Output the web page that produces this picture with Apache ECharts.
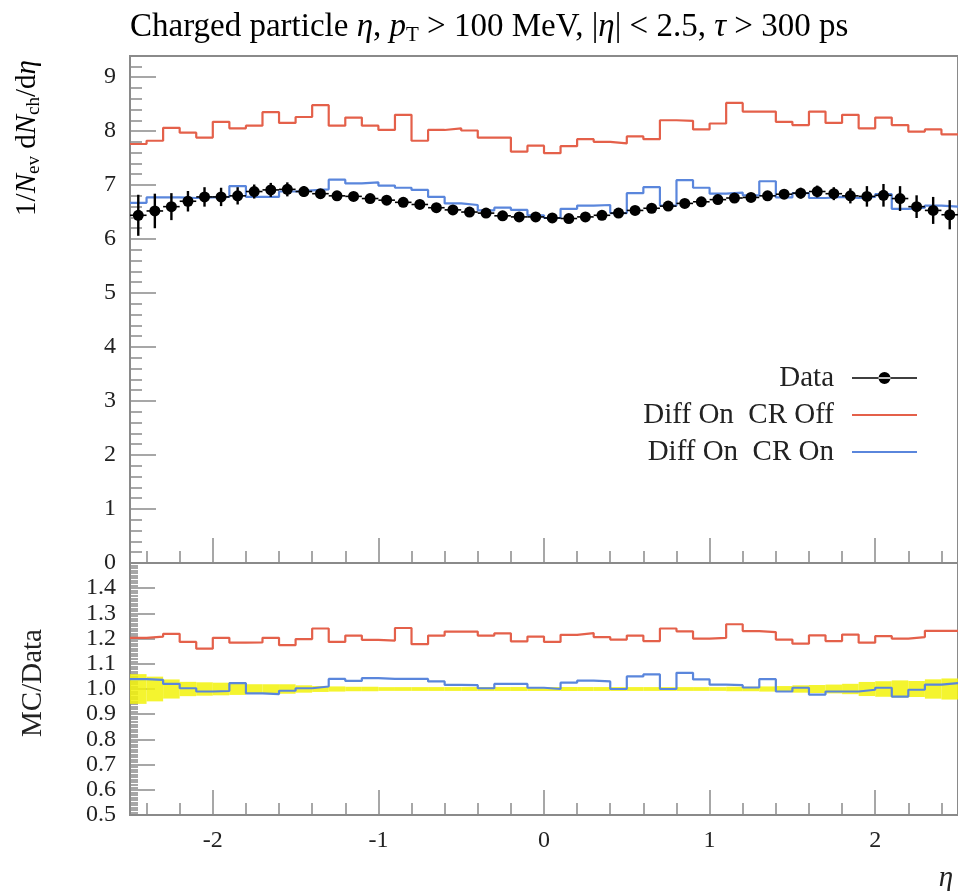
<!DOCTYPE html>
<html><head><meta charset="utf-8">
<script src="https://cdn.jsdelivr.net/npm/echarts@6/dist/echarts.min.js"></script>
<style>html,body{margin:0;padding:0;background:#fff;}#c{width:958px;height:891px;}</style>
</head><body><div id="c"></div>
<script>
// ---- data ----
const binEdges = [-2.5,-2.4,-2.3,-2.2,-2.1,-2.0,-1.9,-1.8,-1.7,-1.6,-1.5,-1.4,-1.3,-1.2,-1.1,-1.0,-0.9,-0.8,-0.7,-0.6,-0.5,-0.4,-0.3,-0.2,-0.1,0.0,0.1,0.2,0.3,0.4,0.5,0.6,0.7,0.8,0.9,1.0,1.1,1.2,1.3,1.4,1.5,1.6,1.7,1.8,1.9,2.0,2.1,2.2,2.3,2.4,2.5];
const dataValues = [6.44,6.52,6.60,6.70,6.78,6.78,6.80,6.88,6.91,6.92,6.88,6.84,6.80,6.79,6.75,6.72,6.68,6.64,6.58,6.54,6.50,6.48,6.43,6.41,6.41,6.39,6.38,6.41,6.44,6.48,6.53,6.57,6.61,6.66,6.69,6.73,6.76,6.77,6.80,6.83,6.85,6.88,6.84,6.80,6.79,6.81,6.75,6.60,6.53,6.45];
const dataErrors = [0.38,0.32,0.25,0.19,0.18,0.17,0.16,0.13,0.13,0.13,0.10,0.08,0.07,0.06,0.06,0.05,0.05,0.05,0.05,0.05,0.05,0.05,0.05,0.05,0.05,0.05,0.05,0.05,0.05,0.05,0.05,0.05,0.05,0.05,0.05,0.05,0.06,0.06,0.07,0.08,0.10,0.11,0.12,0.14,0.19,0.21,0.23,0.21,0.25,0.27];
const crOffValues = [7.76,7.82,8.06,7.97,7.88,8.17,8.05,8.10,8.35,8.15,8.26,8.48,8.10,8.25,8.10,8.02,8.30,7.82,8.02,8.05,8.01,7.88,7.88,7.62,7.73,7.59,7.72,7.85,7.80,7.77,7.90,7.85,8.20,8.19,8.03,8.14,8.52,8.36,8.36,8.17,8.11,8.36,8.15,8.30,8.05,8.25,8.11,7.99,8.03,7.94];
const crOnValues = [6.67,6.77,6.77,6.76,6.77,6.78,6.98,6.78,6.78,6.88,6.90,6.92,7.10,7.03,7.05,6.99,6.95,6.91,6.78,6.66,6.63,6.53,6.58,6.54,6.44,6.39,6.56,6.62,6.63,6.48,6.85,6.96,6.62,7.09,6.95,6.84,6.86,6.81,7.07,6.77,6.85,6.76,6.78,6.76,6.78,6.83,6.56,6.58,6.62,6.60];
const crOffRatio = [1.203,1.208,1.219,1.187,1.160,1.203,1.184,1.185,1.203,1.174,1.198,1.240,1.187,1.212,1.195,1.192,1.242,1.178,1.212,1.228,1.228,1.212,1.221,1.189,1.208,1.187,1.215,1.222,1.206,1.196,1.212,1.190,1.240,1.229,1.200,1.203,1.257,1.230,1.226,1.196,1.180,1.213,1.190,1.216,1.184,1.210,1.200,1.206,1.231,1.231];
const crOnRatio = [1.039,1.036,1.020,1.003,0.990,0.992,1.023,0.983,0.980,0.993,1.003,1.010,1.040,1.032,1.043,1.040,1.040,1.040,1.030,1.016,1.015,1.003,1.020,1.020,1.005,1.000,1.025,1.033,1.030,1.000,1.050,1.058,1.000,1.064,1.038,1.017,1.015,1.006,1.039,0.990,1.005,0.978,0.990,0.990,0.997,1.005,0.970,0.997,1.017,1.023];
const xTickLabels = [-2,-1,0,1,2];
const yTopTickLabels = [0,1,2,3,4,5,6,7,8,9];
const yRatioTickLabels = [0.5,0.6,0.7,0.8,0.9,1.0,1.1,1.2,1.3,1.4];
const seriesNames = ['Data','Diff On  CR Off','Diff On  CR On'];

// ---- styling ----
const FONT = "'Liberation Serif','DejaVu Serif',serif";
const GRAY = '#8a8a8a';
const RED = '#e4604a';
const BLUE = '#5a86dc';
const TXT = '#222';

const minorX = []; for (let k = -12; k <= 12; k++) if (k % 5 !== 0) minorX.push(k / 5);
const minorYTop = []; for (let k = 1; k <= 46; k++) if (k % 5 !== 0) minorYTop.push(k / 5);
const minorYRatio = []; for (let k = 51; k < 150; k++) if (k % 10 !== 0) minorYRatio.push(k / 100);

function stepData(vals) {
  const out = [];
  vals.forEach((v, i) => { out.push([binEdges[i], v]); out.push([binEdges[i + 1], v]); });
  return out;
}
const pointData = dataValues.map((v, i) => [(binEdges[i] + binEdges[i + 1]) / 2, v, dataErrors[i], binEdges[i], binEdges[i + 1]]);
const bandData = dataValues.map((v, i) => [(binEdges[i] + binEdges[i + 1]) / 2, 1, dataErrors[i] / v, binEdges[i], binEdges[i + 1]]);

function axis(dim, gridIndex, min, max, position, ticks, tickLen, labels, fmt, margin) {
  return {
    type: 'value', gridIndex, min, max, position,
    axisLine: { show: true, onZero: false, lineStyle: { color: GRAY, width: 2 } },
    splitLine: { show: false },
    axisTick: { show: true, inside: true, length: tickLen, customValues: ticks, lineStyle: { color: GRAY, width: 1.5 } },
    axisLabel: labels ? { show: true, customValues: labels, formatter: fmt, fontFamily: FONT, fontSize: 24, color: TXT, margin: margin }
                      : { show: false }
  };
}

const chart = echarts.init(document.getElementById('c'));
const option = {
  animation: false,
  backgroundColor: '#fff',
  grid: [
    { left: 130, top: 56, width: 832, height: 507, show: true, borderColor: GRAY, borderWidth: 2, backgroundColor: 'transparent' },
    { left: 130, top: 563, width: 832, height: 252, show: true, borderColor: GRAY, borderWidth: 2, backgroundColor: 'transparent' }
  ],
  xAxis: [
    axis('x', 0, -2.5, 2.5, 'bottom', xTickLabels, 25, null),
    axis('x', 0, -2.5, 2.5, 'bottom', minorX, 12, null),
    axis('x', 1, -2.5, 2.5, 'bottom', xTickLabels, 25, xTickLabels, v => String(v), 14),
    axis('x', 1, -2.5, 2.5, 'bottom', minorX, 12, null)
  ],
  yAxis: [
    axis('y', 0, 0, 9.39, 'left', yTopTickLabels, 26, yTopTickLabels, v => String(Math.round(v)), 14),
    axis('y', 0, 0, 9.39, 'left', minorYTop, 12, null),
    axis('y', 1, 0.5, 1.5, 'left', yRatioTickLabels, 25, yRatioTickLabels, v => v.toFixed(1), 14),
    axis('y', 1, 0.5, 1.5, 'left', minorYRatio, 8, null)
  ],
  legend: {
    orient: 'vertical', right: 40, top: 363, align: 'right', padding: 0,
    itemWidth: 65, itemHeight: 12, itemGap: 7, selectedMode: false,
    textStyle: { fontFamily: FONT, fontSize: 29, color: TXT, lineHeight: 30, padding: [0, 13, 0, 0] },
    data: [
      { name: seriesNames[0], icon: 'path://M0,5.2H65V6.8H0Z M26.5,6A6,6,0,1,0,38.5,6A6,6,0,1,0,26.5,6Z', itemStyle: { opacity: 1 } },
      { name: seriesNames[1], itemStyle: { opacity: 0 } },
      { name: seriesNames[2], itemStyle: { opacity: 0 } }
    ]
  },
  series: [
    { name: seriesNames[1], type: 'line', xAxisIndex: 0, yAxisIndex: 0, data: stepData(crOffValues), symbol: 'none', lineStyle: { color: RED, width: 2.2 }, itemStyle: { color: RED }, z: 3 },
    { name: seriesNames[2], type: 'line', xAxisIndex: 0, yAxisIndex: 0, data: stepData(crOnValues), symbol: 'none', lineStyle: { color: BLUE, width: 2.2 }, itemStyle: { color: BLUE }, z: 3 },
    { name: 'Data errors', type: 'custom', xAxisIndex: 0, yAxisIndex: 0, data: pointData, encode: { x: 0, y: 1 }, z: 4,
      renderItem: function (params, api) {
        const c = api.value(0), v = api.value(1), e = api.value(2), lo = api.value(3), hi = api.value(4);
        const top = api.coord([c, v + e]), bot = api.coord([c, v - e]);
        const l = api.coord([lo, v]), r = api.coord([hi, v]);
        return { type: 'group', children: [
          { type: 'line', shape: { x1: top[0], y1: top[1], x2: bot[0], y2: bot[1] }, style: { stroke: '#000', lineWidth: 2.4 } },
          { type: 'line', shape: { x1: l[0], y1: l[1], x2: r[0], y2: r[1] }, style: { stroke: '#000', lineWidth: 1.6 } }
        ] };
      } },
    { name: seriesNames[0], type: 'scatter', xAxisIndex: 0, yAxisIndex: 0, data: pointData.map(p => [p[0], p[1]]), symbol: 'circle', symbolSize: 11, itemStyle: { color: '#000', opacity: 1 }, z: 5 },
    { name: 'Data band', type: 'custom', xAxisIndex: 2, yAxisIndex: 2, data: bandData, encode: { x: 0, y: 1 }, z: 2, clip: true,
      renderItem: function (params, api) {
        const r = api.value(2), lo = api.value(3), hi = api.value(4);
        const p1 = api.coord([lo, 1 + r]), p2 = api.coord([hi, 1 - r]);
        return { type: 'rect', shape: { x: p1[0], y: p1[1], width: p2[0] - p1[0], height: p2[1] - p1[1] }, style: { fill: '#f2f20a', opacity: 0.85 } };
      } },
    { name: seriesNames[1], type: 'line', xAxisIndex: 2, yAxisIndex: 2, data: stepData(crOffRatio), symbol: 'none', lineStyle: { color: RED, width: 2.2 }, itemStyle: { color: RED }, z: 3 },
    { name: seriesNames[2], type: 'line', xAxisIndex: 2, yAxisIndex: 2, data: stepData(crOnRatio), symbol: 'none', lineStyle: { color: BLUE, width: 2.2 }, itemStyle: { color: BLUE }, z: 3 }
  ],
  graphic: [
    { type: 'text', x: 130, y: 27, style: {
        text: '{r|Charged particle }{i|η}{r|, }{i|p}{s|T}{r| > 100 MeV, |}{i|η}{r|| < 2.5, }{i|τ}{r| > 300 ps}',
        verticalAlign: 'middle', align: 'left',
        rich: {
          r: { fontFamily: FONT, fontSize: 33, color: TXT, lineHeight: 38 },
          i: { fontFamily: FONT, fontSize: 33, fontStyle: 'italic', color: TXT, lineHeight: 38 },
          s: { fontFamily: FONT, fontSize: 21, color: TXT, lineHeight: 23, verticalAlign: 'bottom' }
        } } },
    { type: 'text', x: 27, y: 138, rotation: Math.PI / 2, style: {
        text: '{r|1/}{i|N}{s|ev}{r| d}{i|N}{s|ch}{r|/d}{i|η}',
        align: 'center', verticalAlign: 'middle',
        rich: {
          r: { fontFamily: FONT, fontSize: 29, color: TXT, lineHeight: 34 },
          i: { fontFamily: FONT, fontSize: 29, fontStyle: 'italic', color: TXT, lineHeight: 34 },
          s: { fontFamily: FONT, fontSize: 19, color: TXT, lineHeight: 20, verticalAlign: 'bottom' }
        } } },
    { type: 'text', x: 33, y: 683, rotation: Math.PI / 2, style: {
        text: 'MC/Data', align: 'center', verticalAlign: 'middle', fontFamily: FONT, fontSize: 29, fill: TXT } },
    { type: 'text', x: 946, y: 878, style: {
        text: 'η', align: 'center', verticalAlign: 'middle', fontFamily: FONT, fontSize: 29, fontStyle: 'italic', fill: TXT } }
  ]
};
chart.setOption(option);
</script>
</body></html>
